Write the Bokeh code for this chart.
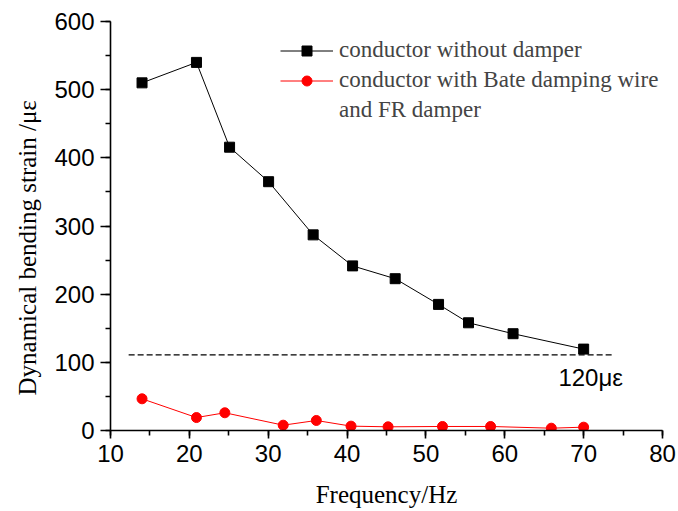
from bokeh.plotting import figure
from bokeh.models import (Range1d, SingleIntervalTicker, Legend, LegendItem, Label, Title,
                          ColumnDataSource)
from bokeh.embed import file_html
from bokeh.resources import INLINE

# ---- data ----
freq_no_damper = [14.0, 20.9, 25.1, 30.05, 35.7, 40.7, 46.1, 51.6, 55.4, 61.05, 70.0]
strain_no_damper = [510, 540, 415.6, 365, 287, 241.5, 222.7, 185, 158, 142, 119.4]

freq_damped = [14.0, 20.9, 24.5, 31.9, 36.1, 40.5, 45.2, 52.1, 58.2, 65.9, 70.0]
strain_damped = [46.5, 19, 26, 7.8, 14.7, 6.4, 5.4, 5.9, 5.9, 3.4, 4.9]

limit_x = [12.3, 73.9]
limit_y = [111, 111]
limit_label = "120με"
limit_label_pos = (66.8, 78)

label_no = "conductor without damper"
label_damped_1 = "conductor with Bate damping wire"
label_damped_2 = "and FR damper"
x_title = "Frequency/Hz"
y_title = "Dynamical bending strain /με"

SERIF = "Liberation Serif"
SANS = "Liberation Sans"

p = figure(width=678, height=511, output_backend="svg", toolbar_location=None,
           x_range=Range1d(10, 80), y_range=Range1d(0, 600),
           min_border_left=110, min_border_right=16, min_border_top=21,
           min_border_bottom=81)
p.outline_line_color = None
p.xgrid.visible = False
p.ygrid.visible = False
p.background_fill_color = "white"
p.border_fill_color = "white"

src_no = ColumnDataSource(dict(x=freq_no_damper, y=strain_no_damper))
src_d = ColumnDataSource(dict(x=freq_damped, y=strain_damped))

l1 = p.line("x", "y", source=src_no, line_color="black", line_width=1)
s1 = p.scatter("x", "y", source=src_no, marker="square", size=10,
               fill_color="black", line_color="black")
l2 = p.line("x", "y", source=src_d, line_color="red", line_width=1)
s2 = p.scatter("x", "y", source=src_d, marker="circle", size=10,
               fill_color="red", line_color="red")
dummy = p.line([], [], line_alpha=0)

p.line(limit_x, limit_y, line_color="black", line_width=1.2, line_dash="6 3")
p.add_layout(Label(x=limit_label_pos[0], y=limit_label_pos[1], text=limit_label,
                   text_baseline="middle", text_align="left", text_font=SANS,
                   text_font_size="24px", text_color="black"))

# axes
p.xaxis.ticker = SingleIntervalTicker(interval=10, num_minor_ticks=2)
p.yaxis.ticker = SingleIntervalTicker(interval=100, num_minor_ticks=2)
for ax in (p.xaxis[0], p.yaxis[0]):
    ax.axis_line_width = 1.6
    ax.major_tick_line_width = 1.6
    ax.minor_tick_line_width = 1.6
    ax.major_tick_in = 0
    ax.minor_tick_in = 0
    ax.minor_tick_out = 5
    ax.major_label_text_font = SANS
    ax.major_label_text_font_size = "24px"
    ax.major_label_text_color = "black"
    ax.axis_label_text_font = SERIF
    ax.axis_label_text_font_size = "25px"
    ax.axis_label_text_font_style = "normal"
    ax.axis_label_text_color = "black"
    ax.axis_line_color = "black"
    ax.major_tick_line_color = "black"
    ax.minor_tick_line_color = "black"

p.xaxis.major_tick_out = 8
p.yaxis.major_tick_out = 10
p.xaxis.major_label_standoff = 6
p.yaxis.major_label_standoff = 6
p.xaxis.axis_label = x_title
p.xaxis.axis_label_standoff = 16

# y title as a side title on the left, starting a little above the x axis
p.add_layout(Title(text=y_title, align="left", offset=35, standoff=22,
                   text_font=SERIF, text_font_size="25px", text_font_style="normal",
                   text_color="black"), "left")

legend = Legend(items=[
    LegendItem(label=label_no, renderers=[l1, s1]),
    LegendItem(label=label_damped_1, renderers=[l2, s2]),
    LegendItem(label=label_damped_2, renderers=[dummy]),
], location=(170, 305), padding=0, spacing=0, margin=0,
    glyph_width=53, glyph_height=25, label_height=30, label_standoff=6,
    label_text_font=SERIF, label_text_font_size="23px",
    border_line_color=None, background_fill_alpha=0)
p.add_layout(legend)

open("out.html", "w").write(file_html(p, INLINE))
